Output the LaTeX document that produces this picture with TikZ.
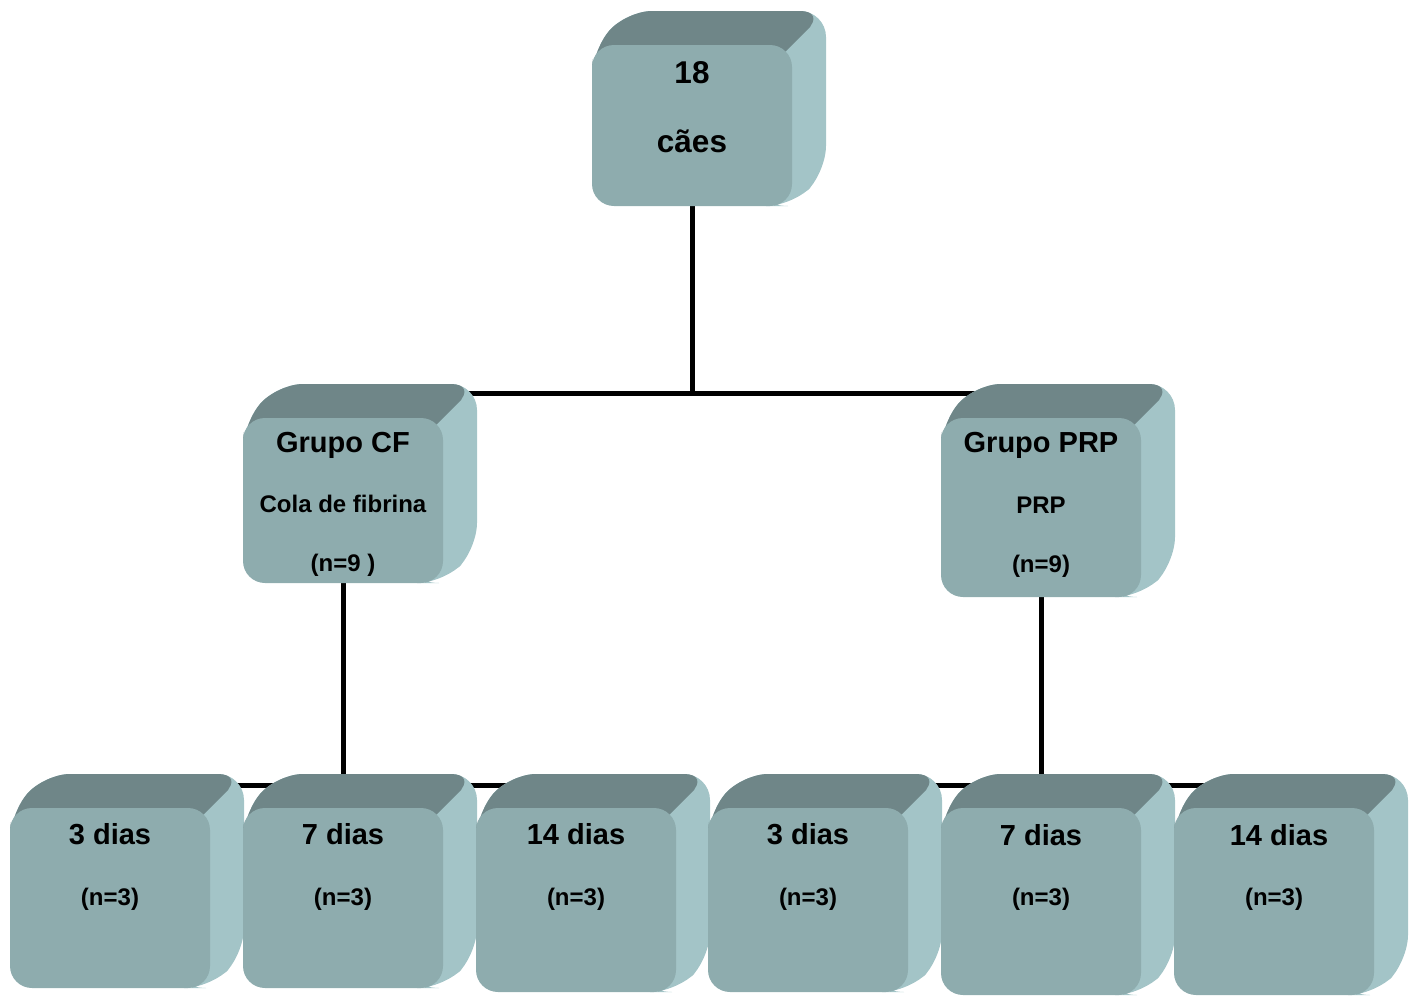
\documentclass[tikz,border=0pt]{standalone}
\usepackage{fontspec}
\setmainfont{Liberation Sans}
\usetikzlibrary{calc}
\definecolor{frontcol}{HTML}{8EACAE}
\definecolor{topcol}{HTML}{6F8688}
\definecolor{sidecol}{HTML}{A3C4C7}
\pgfdeclarelayer{bg}
\pgfsetlayers{bg,main}
\tikzset{
  front/.style={fill=frontcol, draw=none, rounded corners=22pt, inner sep=0pt, shape=rectangle},
  conn/.style={draw=black, line width=5pt},
  big/.style={anchor=base, font=\bfseries\fontsize{31.5}{36}\selectfont},
  head/.style={anchor=base, font=\bfseries\fontsize{29}{34}\selectfont},
  sub/.style={anchor=base, font=\bfseries\fontsize{24}{28}\selectfont},
}
% #1 name, #2 x1, #3 y1, #4 x2, #5 y2 (pixel coordinates, y downward)
\newcommand{\cubebox}[5]{%
  \fill[sidecol, rounded corners=26pt] (#2+30,#3+40) -- (#2,#3+40) -- (#2,#3+6) -- (#2+34,#3-34) -- (#4+34,#3-34) -- (#4+34,#5-34) -- (#4,#5) -- (#4-30,#5) -- cycle;
  \fill[topcol, rounded corners=26pt] (#2+30,#3+40) -- (#2,#3+40) -- (#2,#3+6) -- (#2+34,#3-34) -- (#4+34,#3-34) -- (#4,#3) -- (#4-30,#3+30) -- cycle;
  \pgfmathsetmacro\cw{#4-#2}%
  \pgfmathsetmacro\ch{#5-#3}%
  \node[front, minimum width=\cw pt, minimum height=\ch pt] (#1) at ({(#2+#4)/2},{(#3+#5)/2}) {};
}
\begin{document}
\begin{tikzpicture}[x=1pt, y=-1pt]
\useasboundingbox (0,0) rectangle (1417,996);

\cubebox{top}{592}{45}{792}{206}
\node[big] at ($(top.north)+(0,39)$) {18};
\node[big] at ($(top.north)+(0,108)$) {cães};

\cubebox{cf}{243}{418}{443}{583}
\node[head] at ($(cf.north)+(0,35)$) {Grupo CF};
\node[sub] at ($(cf.north)+(0,95)$) {Cola de fibrina};
\node[sub] at ($(cf.north)+(0,154)$) {(n=9 )};

\cubebox{prp}{941}{418}{1141}{597}
\node[head] at ($(prp.north)+(0,35)$) {Grupo PRP};
\node[sub] at ($(prp.north)+(0,96)$) {PRP};
\node[sub] at ($(prp.north)+(0,155)$) {(n=9)};

\cubebox{b1}{10}{808}{210}{988}
\cubebox{b2}{243}{808}{443}{988}
\cubebox{b3}{476}{808}{676}{992}
\cubebox{b4}{708}{808}{908}{992}
\cubebox{b5}{941}{808}{1141}{995}
\cubebox{b6}{1174}{808}{1374}{995}

\node[head] at ($(b1.north)+(0,37)$) {3 dias};
\node[sub]  at ($(b1.north)+(0,98)$) {(n=3)};
\node[head] at ($(b2.north)+(0,37)$) {7 dias};
\node[sub]  at ($(b2.north)+(0,98)$) {(n=3)};
\node[head] at ($(b3.north)+(0,37)$) {14 dias};
\node[sub]  at ($(b3.north)+(0,98)$) {(n=3)};
\node[head] at ($(b4.north)+(0,37)$) {3 dias};
\node[sub]  at ($(b4.north)+(0,98)$) {(n=3)};
\node[head] at ($(b5.north)+(0,38)$) {7 dias};
\node[sub]  at ($(b5.north)+(0,98)$) {(n=3)};
\node[head] at ($(b6.north)+(5,38)$) {14 dias};
\node[sub]  at ($(b6.north)+(0,98)$) {(n=3)};

\begin{pgfonlayer}{bg}
\draw[conn] (top.south) |- ($(cf.north)+(0,-24)$);
\draw[conn] (top.south) |- ($(prp.north)+(0,-24)$);
\draw[conn] (cf.south) |- ($(b1.north)+(0,-22)$);
\draw[conn] (cf.south) |- ($(b3.north)+(0,-22)$);
\draw[conn] (prp.south) |- ($(b4.north)+(0,-22)$);
\draw[conn] (prp.south) |- ($(b6.north)+(0,-22)$);
\end{pgfonlayer}
\end{tikzpicture}
\end{document}
